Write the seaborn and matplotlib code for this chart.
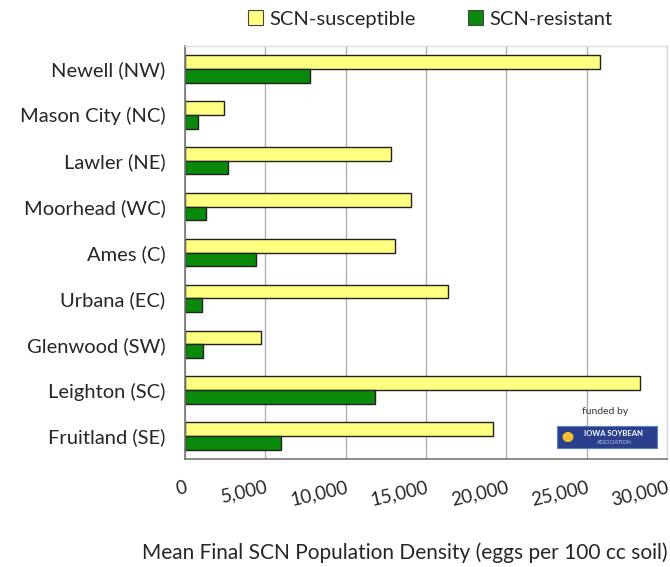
import matplotlib
matplotlib.use("Agg")
import matplotlib.pyplot as plt
import seaborn as sns
import pandas as pd
import numpy as np
from matplotlib.ticker import MultipleLocator, FuncFormatter
from matplotlib.patches import Rectangle, Ellipse

locations = ["Newell (NW)", "Mason City (NC)", "Lawler (NE)", "Moorhead (WC)", "Ames (C)",
             "Urbana (EC)", "Glenwood (SW)", "Leighton (SC)", "Fruitland (SE)"]
susceptible = [25850, 2450, 12850, 14050, 13100, 16400, 4750, 28350, 19150]
resistant = [7800, 820, 2650, 1280, 4450, 1070, 1150, 11800, 5950]
series = ["SCN-susceptible", "SCN-resistant"]
colors = ["#FFFF80", "#0A8A0A"]

df = pd.DataFrame({
    "loc": locations * 2,
    "val": susceptible + resistant,
    "series": [series[0]] * len(locations) + [series[1]] * len(locations),
})

sns.set_style("white")
plt.rcParams['font.family'] = ['Lato', 'DejaVu Sans']

fig = plt.figure(figsize=(6.70, 5.67), dpi=100)
ax = fig.add_axes([185/670, 1 - 459/567, (667-185)/670, (459-46)/567])

sns.barplot(data=df, y="loc", x="val", hue="series", order=locations, hue_order=series,
            palette=colors, saturation=1, orient="h", width=0.6, ax=ax,
            edgecolor="#222222", linewidth=1, legend=True)

ax.set_xlim(0, 30000)
ax.set_ylim(len(locations) - 0.5, -0.5)
ax.xaxis.set_major_locator(MultipleLocator(5000))
ax.xaxis.set_minor_locator(MultipleLocator(1000))
ax.xaxis.set_major_formatter(FuncFormatter(lambda v, p: f"{int(v):,}"))
ax.grid(axis="x", which="major", color="#b0b0b0", linewidth=1)
ax.set_axisbelow(True)

ax.set_yticks(np.arange(len(locations)))
ax.set_yticklabels(locations, fontsize=14.5)
ax.set_yticks(np.arange(len(locations) + 1) - 0.5, minor=True)
ax.tick_params(axis="y", which="major", length=0, pad=14)
ax.tick_params(axis="y", which="minor", length=5, color="#888888", width=1, direction="out")
ax.tick_params(axis="x", which="major", length=8, color="#888888", direction="in", labelsize=13.5, pad=14)
ax.tick_params(axis="x", which="minor", length=5, color="#888888", direction="in")
for lbl in ax.get_xticklabels():
    lbl.set_rotation(13)
    lbl.set_ha("right")
    lbl.set_rotation_mode("anchor")

ax.set_xlabel("Mean Final SCN Population Density (eggs per 100 cc soil)", fontsize=15, labelpad=22)
ax.xaxis.set_label_coords((405 - 185) / 482, -(553 - 459) / 413)
ax.xaxis.label.set_va("center")
ax.set_ylabel("")

for s in ["left", "bottom"]:
    ax.spines[s].set_color("#777777")
    ax.spines[s].set_linewidth(1.2)
for s in ["top", "right"]:
    ax.spines[s].set_color("#dddddd")
    ax.spines[s].set_linewidth(1)

leg = ax.legend(loc="center", bbox_to_anchor=((430 - 185) / 482, 1 + (46 - 19) / 413), ncol=2, frameon=False,
                fontsize=14.5, handlelength=0.75, handleheight=0.75, handletextpad=0.3, columnspacing=2.6,
                borderaxespad=0)
for h in leg.legend_handles:
    h.set_edgecolor("#444444")
    h.set_linewidth(0.8)

# funding logo
fig.text(605/670, 1 - 411/567, "funded by", fontsize=7.5, ha="center", va="center", color="#333333")
logo = Rectangle((557/670, 1 - 448/567), (657-557)/670, (448-426)/567, transform=fig.transFigure,
                 facecolor="#2b3f8c", edgecolor="#5a7fbf", linewidth=0.8)
fig.patches.append(logo)
fig.patches.append(Ellipse((568/670, 1 - 437/567), 11/670, 10/567, transform=fig.transFigure,
                           facecolor="#f2c230", edgecolor="none"))
fig.text(614/670, 1 - 433.5/567, "IOWA SOYBEAN", fontsize=5.5, ha="center", va="center",
         color="white", fontweight="bold")
fig.text(614/670, 1 - 442.5/567, "ASSOCIATION", fontsize=3.8, ha="center", va="center", color="#c8d0f0")

fig.savefig("out.png", dpi=100)
